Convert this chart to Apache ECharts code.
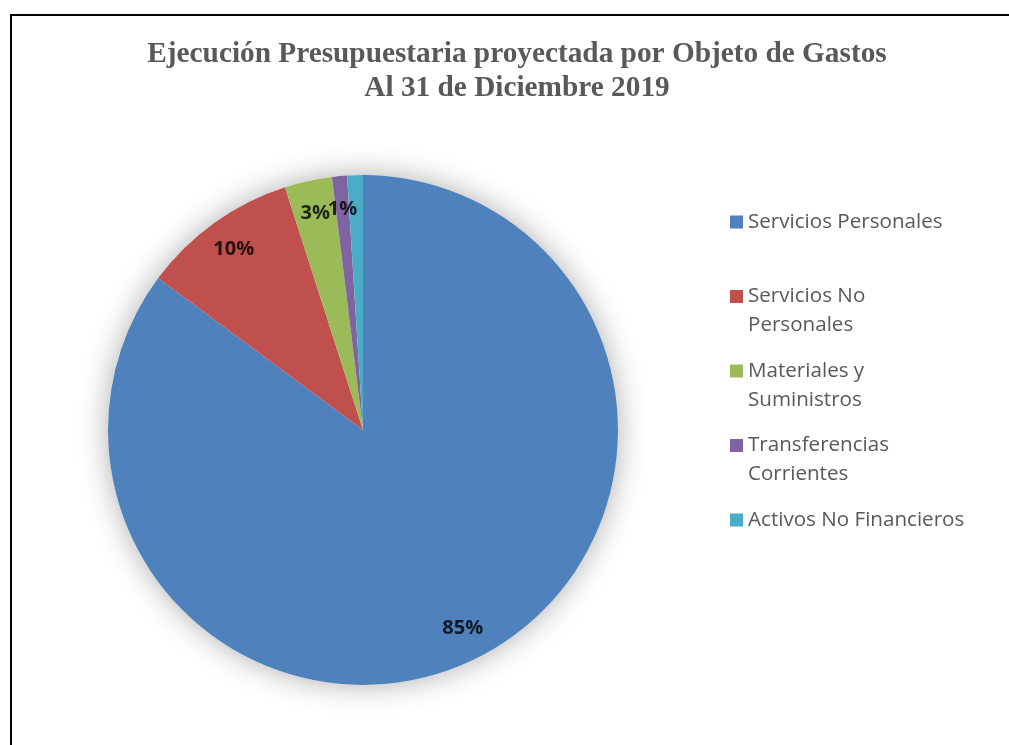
<!DOCTYPE html>
<html>
<head>
<meta charset="utf-8">
<script src="https://cdn.jsdelivr.net/npm/echarts@6/dist/echarts.min.js"></script>
<style>
  html, body { margin: 0; padding: 0; background: #fff; }
  #chart { width: 1009px; height: 745px; }
</style>
</head>
<body>
<div id="chart"></div>
<script>
const categories = [
  'Servicios Personales',
  'Servicios No Personales',
  'Materiales y Suministros',
  'Transferencias Corrientes',
  'Activos No Financieros',
]
const shares = [85.2, 9.9, 3.0, 0.95, 1.0]
const legendText = [
  'Servicios Personales',
  'Servicios No\nPersonales',
  'Materiales y\nSuministros',
  'Transferencias\nCorrientes',
  'Activos No Financieros',
]
// the last slice's label is not shown in the original (it sits under the other 1%)
const showLabel = [true, true, true, true, false]
const colors = ['#4F81BD', '#C0504D', '#9BBB59', '#8064A2', '#4BACC6']

const center = [363, 430]
const R = 255
const labelRadius = 0.87

const chart = echarts.init(document.getElementById('chart'))

const total = shares.reduce((a, b) => a + b, 0)
const pieData = categories.map((name, i) => ({ name, value: shares[i] }))

// label anchors: middle of each slice, placed on a polar grid matching the pie
let acc = 0
const labelData = []
shares.forEach((v, i) => {
  if (showLabel[i]) {
    labelData.push({
      value: [labelRadius, acc + v / 2],
      pct: Math.round(v / total * 100) + '%',
    })
  }
  acc += v
})

chart.setOption({
  animation: false,
  backgroundColor: '#fff',
  color: colors,
  title: {
    text: 'Ejecución Presupuestaria proyectada por Objeto de Gastos\nAl 31 de Diciembre 2019',
    left: 517,
    top: 37,
    padding: 0,
    textAlign: 'center',
    textStyle: {
      fontFamily: 'Liberation Serif',
      fontWeight: 'bold',
      fontSize: 29.3,
      lineHeight: 34,
      color: '#595959',
    },
  },
  graphic: [
    {
      type: 'rect',
      shape: { x: 11, y: 15, width: 1200, height: 900 },
      style: { fill: 'none', stroke: '#000', lineWidth: 2 },
      silent: true,
    },
  ],
  polar: { center, radius: R },
  angleAxis: {
    type: 'value',
    min: 0,
    max: total,
    startAngle: 90,
    clockwise: true,
    show: false,
  },
  radiusAxis: { type: 'value', min: 0, max: 1, show: false },
  legend: {
    orient: 'vertical',
    left: 730,
    top: 178.5,
    padding: 0,
    itemWidth: 13,
    itemHeight: 13,
    itemGap: -12.5,
    icon: 'rect',
    selectedMode: false,
    data: categories,
    formatter: name => {
      const t = legendText[categories.indexOf(name)]
      return '\n' + t + (t.includes('\n') ? '' : '\n')
    },
    textStyle: {
      fontFamily: 'Open Sans',
      fontSize: 20.6,
      lineHeight: 29,
      color: '#595959',
    },
  },
  series: [
    {
      // soft shadow behind the pie
      type: 'pie',
      silent: true,
      center,
      radius: R,
      label: { show: false },
      data: [{ value: 1, name: '' }],
      itemStyle: {
        color: '#fff',
        shadowBlur: 30,
        shadowColor: 'rgba(0,0,0,0.32)',
      },
      z: 1,
    },
    {
      type: 'pie',
      center,
      radius: R,
      startAngle: 90,
      clockwise: true,
      label: { show: false },
      labelLine: { show: false },
      itemStyle: { borderWidth: 0 },
      emphasis: { disabled: true },
      data: pieData,
      z: 2,
    },
    {
      type: 'scatter',
      coordinateSystem: 'polar',
      silent: true,
      symbolSize: 0,
      itemStyle: { color: 'transparent' },
      data: labelData,
      label: {
        show: true,
        position: 'inside',
        formatter: p => p.data.pct,
        fontFamily: 'Open Sans',
        fontWeight: 'bold',
        fontSize: 20,
        color: '#000',
        textBorderWidth: 0,
      },
      z: 3,
    },
  ],
})
</script>
</body>
</html>
